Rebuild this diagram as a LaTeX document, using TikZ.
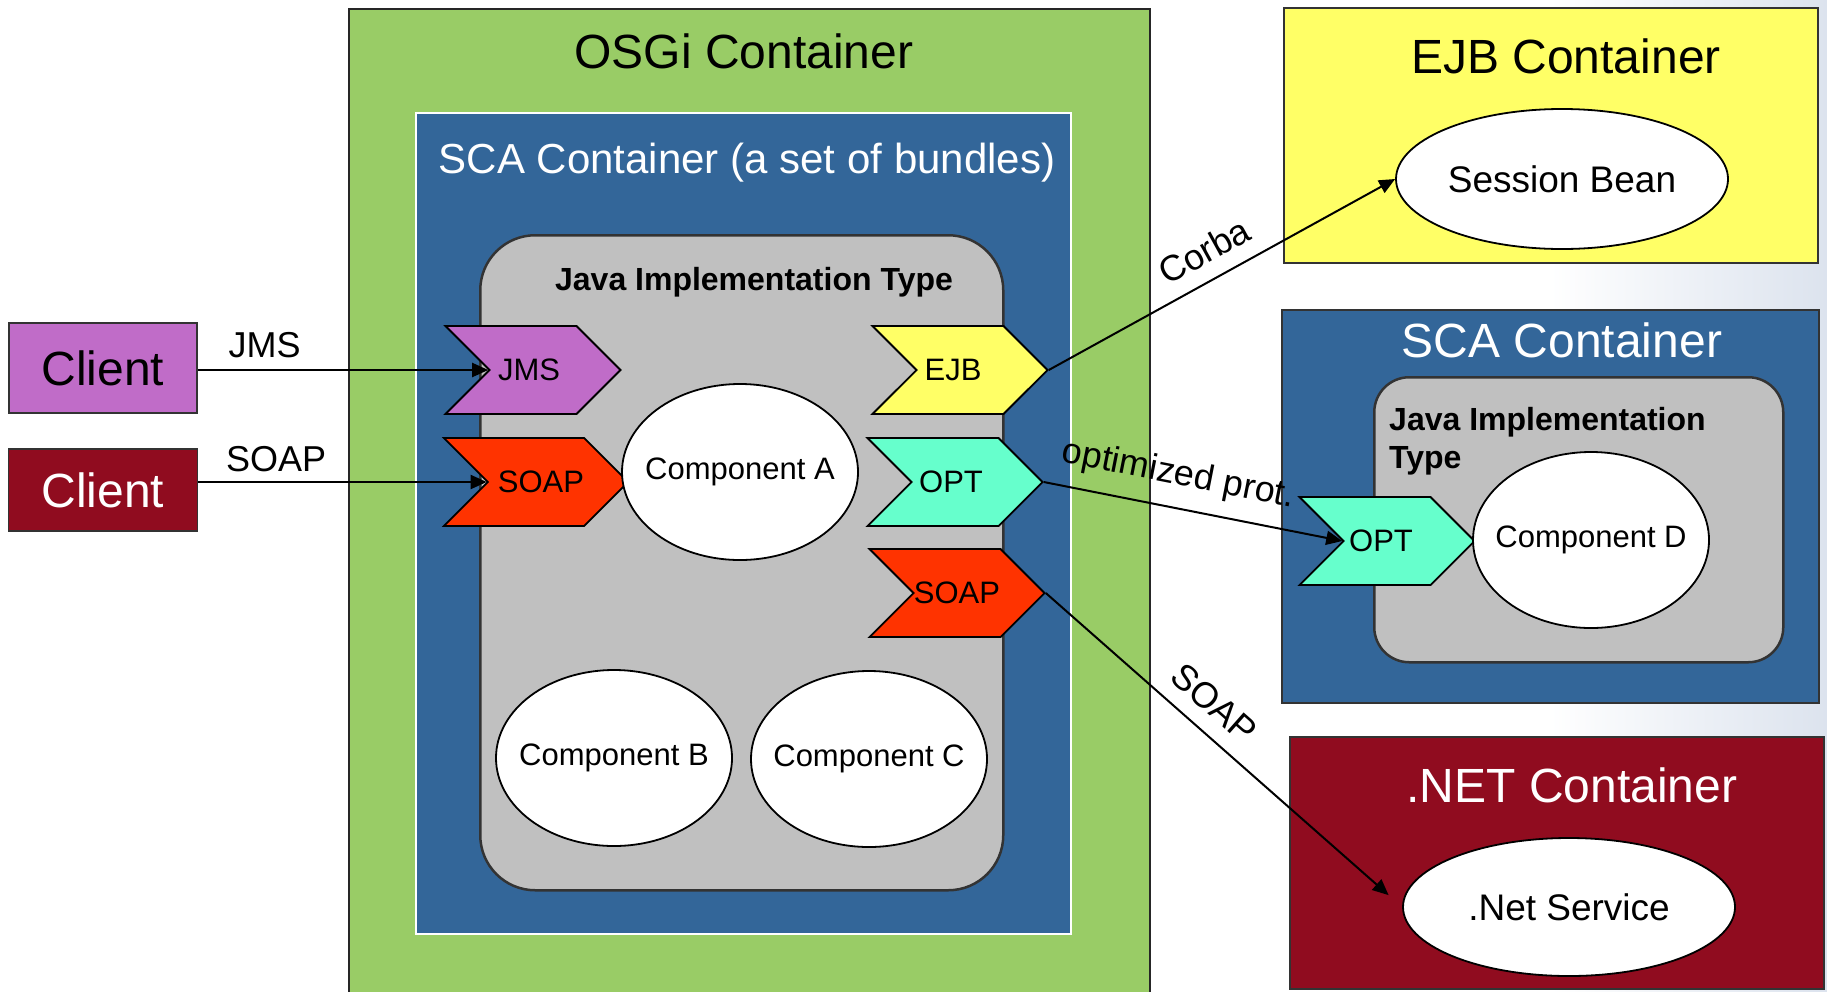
\documentclass[tikz,border=0pt]{standalone}
\usepackage{fontspec}
\setmainfont{Liberation Sans}
\usetikzlibrary{shapes.geometric,shapes.symbols,arrows.meta}
\definecolor{osgigreen}{HTML}{99CC66}
\definecolor{scablue}{HTML}{336699}
\definecolor{jgray}{HTML}{C0C0C0}
\definecolor{jmspurple}{HTML}{C06CC8}
\definecolor{soapred}{HTML}{FF3300}
\definecolor{ejbyellow}{HTML}{FFFF66}
\definecolor{optmint}{HTML}{66FFCC}
\definecolor{netred}{HTML}{900C1F}
\definecolor{bgblue}{HTML}{DCE3EE}
\definecolor{edge}{HTML}{333333}
\newcommand\fsz[1]{\fontsize{#1}{#1}\selectfont}
\newcommand\ztext[1]{\makebox[0pt]{#1}}
\begin{document}
\begin{tikzpicture}[x=1pt,y=-1pt,
  box/.style={rectangle, anchor=north west, inner sep=0pt, draw=edge, line width=2pt},
  title/.style={anchor=base, font=\fsz{48}},
  chev/.style={shape=signal, signal from=west, signal to=east, signal pointer angle=90,
    draw=black, line width=1.8pt, minimum width=175pt, minimum height=88pt,
    inner sep=0pt, font=\fsz{31}},
  comp/.style={ellipse, draw=black, fill=white, line width=1.8pt, inner sep=0pt,
    minimum width=236pt, minimum height=176pt, font=\fsz{31}},
  client/.style={rectangle, draw=edge, line width=1.5pt, inner sep=0pt, font=\fsz{48}},
  conn/.style={line width=2pt, -{Triangle[length=16pt,width=14pt]}},
  lbl/.style={font=\fsz{36}, inner sep=15pt}]
\useasboundingbox (0,0) rectangle (1827,991);
\shade[left color=white, right color=bgblue] (1550,0) rectangle (1827,991);

% OSGi container
\node[box, fill=osgigreen, draw=black!85, line width=1.5pt, minimum width=801pt, minimum height=1000pt] (osgi) at (348,8) {};
\node[title] (osgiT) at (744,68) {OSGi Container};
\node[box, fill=scablue, draw=white, line width=2pt, minimum width=655pt, minimum height=821pt] (sca) at (415,112) {};
\node[anchor=base, font=\fsz{42}, text=white] (scaT) at (747,173) {SCA Container (a set of bundles)};
\node[box, fill=jgray, line width=2.5pt, rounded corners=55pt, minimum width=523pt, minimum height=655pt] (java) at (479,234) {};
\node[anchor=base, font=\fsz{32}\bfseries] (javaT) at (754,290) {Java Implementation Type};

\node[chev, fill=jmspurple] (jmsL) at (533,370) {\hspace*{-8pt}JMS};
\node[chev, fill=soapred] (soapL) at (536,482) {\hspace*{10pt}SOAP};
\node[chev, fill=ejbyellow] (ejb) at (960,370) {EJB\hspace*{14pt}};
\node[chev, fill=optmint] (optL) at (955,482) {OPT\hspace*{8pt}};
\node[chev, fill=soapred] (soapR) at (957,593) {SOAP};

\node[comp] (compA) at (740,472) {\ztext{Component A}};
\node[comp] (compB) at (614,758) {\ztext{Component B}};
\node[comp] (compC) at (869,759) {\ztext{Component C}};

% clients
\node[client, fill=jmspurple, minimum width=188pt, minimum height=90pt] (clientJ) at (103,368) {Client};
\node[client, fill=netred, text=white, minimum width=189pt, minimum height=82pt] (clientS) at (103,490) {Client};

% EJB container
\node[box, fill=ejbyellow, minimum width=534pt, minimum height=255pt] (ejbC) at (1283,7) {};
\node[title] (ejbT) at (1566,73) {EJB Container};
\node[comp, minimum width=332pt, minimum height=140pt, font=\fsz{37}] (session) at (1562,179) {\ztext{Session Bean}};

% remote SCA container
\node[box, fill=scablue, minimum width=537pt, minimum height=393pt] (sca2) at (1281,309) {};
\node[title, text=white] (sca2T) at (1562,357) {SCA Container};
\node[box, fill=jgray, line width=2.5pt, rounded corners=35pt, minimum width=409pt, minimum height=285pt] (java2) at (1373,376) {};
\node[anchor=north west, inner sep=0pt, align=left, font=\fontsize{32}{38}\selectfont\bfseries] (java2T) at (1389,407) {Java Implementation\\Type};
\node[chev, fill=optmint] (optR) at (1387,541) {OPT\hspace*{12pt}};
\node[comp] (compD) at (1591,540) {\ztext{Component D}};

% .NET container
\node[box, fill=netred, minimum width=534pt, minimum height=252pt] (netC) at (1289,736) {};
\node[title, text=white] (netT) at (1572,802) {.NET Container};
\node[comp, minimum width=332pt, minimum height=138pt, font=\fsz{37}] (net) at (1569,907) {\ztext{.Net Service}};

% connectors
\draw[conn] (clientJ.east |- jmsL.west) -- node[lbl, above, pos=0.23, inner sep=11pt] (lblJMS) {JMS} (jmsL.west);
\draw[conn] (clientS.east |- soapL.west) -- node[lbl, above, pos=0.27, inner sep=9pt] (lblSOAP) {SOAP} (soapL.west);
\draw[conn] (ejb.east) -- node[lbl, sloped, above, pos=0.49] (lblCorba) {Corba} (session.west);
\draw[conn] (optL.east) -- node[lbl, sloped, above, pos=0.43] (lblOpt) {optimized prot.} (optR.west);
\draw[conn, shorten >=18pt] (soapR.east) -- node[lbl, sloped, above, pos=0.42] (lblSoap2) {SOAP} (net.west);
\end{tikzpicture}
\end{document}
